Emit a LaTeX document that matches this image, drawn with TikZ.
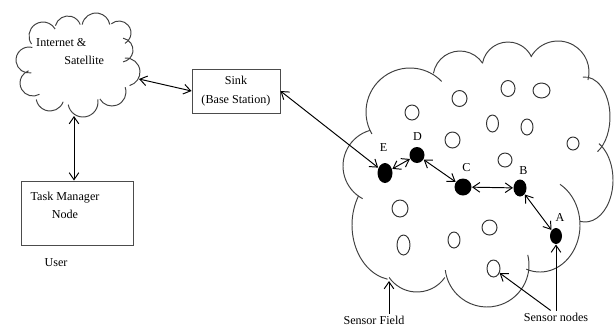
\documentclass[tikz,border=0pt]{standalone}
\usepackage{fontspec}
\setmainfont{Liberation Serif}
\usetikzlibrary{arrows.meta,shapes.geometric}

\begin{document}
\begin{tikzpicture}[x=0.02cm, y=0.02cm, line width=0.55pt,
    >={Straight Barb[length=4pt,width=5.5pt]},
    txt/.style={font=\fontsize{6.9}{10.5}\selectfont, inner sep=1pt},
    box/.style={draw=black!70, inner sep=1pt},
    puff/.style={draw=black!75},
    mote/.style={ellipse, fill=black, inner sep=0pt},
    idle/.style={ellipse, draw=black!80, inner sep=0pt}]

\useasboundingbox (0,0) rectangle (614,-326);

% Internet cloud (one arc per bump)
\foreach \cx/\cy/\r/\a/\b in {43/36/14/215/30, 68/29/13/165/20, 96/27/14/170/10,
        119/33/12/130/-60, 121/50/12/80/-80, 126/72/14/95/-75, 112/92/14/20/-150,
        83/102/15/10/-170, 50/97/14/-20/-170, 33/83/13/-60/-250, 29/60/13/-80/-285}
    \draw[puff] (\cx,-\cy) ++(\a:\r) arc[start angle=\a, end angle=\b, radius=\r];
\node[txt, anchor=west, align=left] (inettxt) at (34,-51.5) {Internet \&\\\hspace*{16pt}Satellite};
\coordinate (inetport) at (139,-79);
\coordinate (inetfoot) at (74,-116);

% Sink and user side
\node[box, txt, align=center, minimum width=1.76cm, minimum height=0.88cm] (sink) at (236,-91) {Sink\\(Base Station)};
\node[box, minimum width=2.24cm, minimum height=1.28cm] (task) at (77,-213) {};
\node[txt, align=center] (tasktxt) at (65,-205.5) {Task Manager\\Node};
\node[txt] (user) at (56,-263) {User};

\draw[<->] (inetport) -- (sink.west);
\draw[<->] (inetfoot) -- (inetfoot |- task.north);

% Sensor field outline
\foreach \cx/\cy/\rx/\ry/\a/\b in {410/112/44/44/210/44, 460/78/27/27/170/33,
        508/68/26/26/169/25, 558/72/31/31/150/-15, 585/117/25/40/95/-60,
        585/180/28/42/60/-100, 540/225/40/47/60/-110, 487/265/42/42/14/-173,
        417/258/34/34/-35/-145, 395/225/43/55/-100/-212, 380/166/37/37/242/106}
    \draw[puff] (\cx,-\cy) ++({\a}:{\rx} and {\ry}) arc[start angle=\a, end angle=\b, x radius=\rx, y radius=\ry];

% idle sensors
\foreach \x/\y/\w/\h [count=\i] in {459.5/98.5/15/16, 412/112.5/14/15, 452.5/140/15/16,
        508/88.5/14/16, 541.5/90.5/17/15, 492.5/123.5/12/17, 527/127/12/16,
        573/143.5/12/13, 505/160/14/14, 400/208.5/16/17, 403.5/245/13/20,
        454/240/12/16, 489.5/227.5/15/15, 493.5/268.5/13/17}
    \node[idle, minimum width=\w*0.02cm, minimum height=\h*0.02cm] (s\i) at (\x,-\y) {};

% routing path
\node[mote, minimum width=0.30cm, minimum height=0.40cm] (E) at (385,-173) {};
\node[mote, minimum width=0.30cm, minimum height=0.32cm] (D) at (417,-155) {};
\node[mote, minimum width=0.34cm, minimum height=0.34cm] (C) at (463,-187) {};
\node[mote, minimum width=0.26cm, minimum height=0.34cm] (B) at (520,-188) {};
\node[mote, minimum width=0.24cm, minimum height=0.32cm] (A) at (556,-236) {};
\node[txt] (Etxt) at (383.5,-147.5) {E};
\node[txt] (Dtxt) at (417.5,-137) {D};
\node[txt] (Ctxt) at (466.5,-168) {C};
\node[txt] (Btxt) at (523.5,-171) {B};
\node[txt] (Atxt) at (560,-217.5) {A};

\draw[<->] (sink.east) -- (E);
\draw[<->] (E) -- (D);
\draw[<->] (D) -- (C);
\draw[<->] (C) -- (B);
\draw[<->] (B) -- (A);

% captions
\node[txt] (fieldlbl) at (374,-320) {Sensor Field};
\coordinate (fieldtip) at (389,-281);
\draw[->] (fieldlbl.north -| fieldtip) -- (fieldtip);
\node[txt] (nodeslbl) at (556,-317) {Sensor nodes};
\draw[->] (nodeslbl.north -| A) -- (A);
\draw[->] ([xshift=-3pt]nodeslbl.north) -- (s14);

\end{tikzpicture}
\end{document}
